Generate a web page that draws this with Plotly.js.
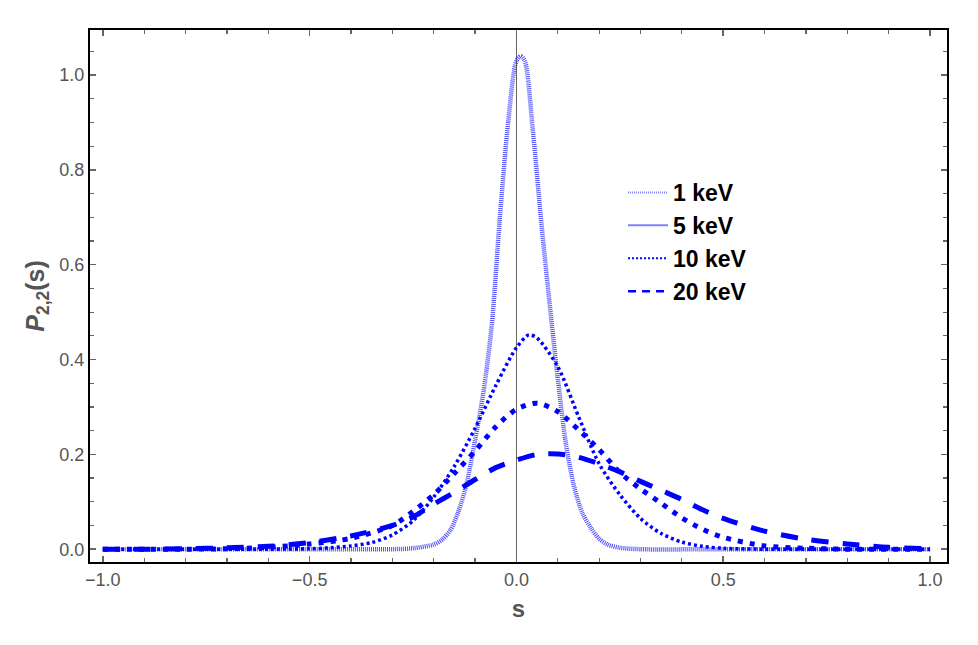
<!DOCTYPE html>
<html>
<head>
<meta charset="utf-8">
<script src="https://cdn.plot.ly/plotly-3.0.1.min.js"></script>
<style>
  html, body { margin: 0; padding: 0; background: #fff; }
  #chart { width: 978px; height: 645px; }
</style>
</head>
<body>
<div id="chart"></div>
<script>
// values
const s1 = [-1, -0.5, -0.3, -0.25, -0.2, -0.18, -0.16, -0.14, -0.12, -0.10, -0.08, -0.06, -0.04, -0.02, 0, 0.01, 0.02, 0.04, 0.06, 0.08, 0.10, 0.12, 0.14, 0.16, 0.18, 0.20, 0.22, 0.25, 0.3, 0.5, 1];
const p1 = [0, 0, 0, 0.002, 0.01, 0.02, 0.04, 0.08, 0.14, 0.23, 0.33, 0.47, 0.70, 0.90, 1.03, 1.04, 1.03, 0.88, 0.69, 0.52, 0.36, 0.22, 0.13, 0.075, 0.045, 0.022, 0.01, 0.003, 0, 0, 0];

const s5 = [-1, -0.6, -0.5, -0.45, -0.4, -0.35, -0.3, -0.25, -0.2, -0.15, -0.1, -0.05, 0, 0.03, 0.05, 0.1, 0.15, 0.2, 0.25, 0.3, 0.35, 0.4, 0.45, 0.5, 0.6, 1];
const p5 = [0, 0, 0.001, 0.003, 0.007, 0.014, 0.03, 0.06, 0.11, 0.175, 0.255, 0.345, 0.425, 0.452, 0.445, 0.385, 0.28, 0.18, 0.115, 0.065, 0.033, 0.015, 0.006, 0.002, 0, 0];

const s10 = [-1, -0.8, -0.7, -0.6, -0.5, -0.4, -0.3, -0.25, -0.2, -0.15, -0.1, -0.05, 0, 0.05, 0.1, 0.15, 0.2, 0.25, 0.3, 0.35, 0.4, 0.45, 0.5, 0.6, 0.7, 0.8, 1];
const p10 = [0, 0, 0.001, 0.004, 0.011, 0.023, 0.05, 0.08, 0.115, 0.16, 0.207, 0.258, 0.295, 0.308, 0.29, 0.252, 0.21, 0.162, 0.127, 0.097, 0.066, 0.042, 0.025, 0.007, 0.002, 0, 0];

const s20 = [-1, -0.9, -0.8, -0.7, -0.6, -0.5, -0.4, -0.35, -0.3, -0.25, -0.2, -0.15, -0.1, -0.05, 0, 0.05, 0.1, 0.15, 0.2, 0.25, 0.3, 0.35, 0.4, 0.45, 0.5, 0.6, 0.7, 0.8, 0.9, 1];
const p20 = [0, 0, 0.001, 0.003, 0.006, 0.014, 0.028, 0.038, 0.05, 0.068, 0.095, 0.12, 0.147, 0.172, 0.188, 0.2, 0.201, 0.194, 0.18, 0.163, 0.143, 0.124, 0.105, 0.083, 0.065, 0.038, 0.021, 0.011, 0.004, 0.001];

const names = ["1 keV", "5 keV", "10 keV", "20 keV"];

const font = "Arial, 'Liberation Sans', sans-serif";
const gray = "#555555";

const curves = [
  { x: s1, y: p1, line: { color: "rgba(30,30,255,0.8)", width: 4.5, dash: "1px,1px" } },
  { x: s5, y: p5, line: { color: "#0000ff", width: 3.5, dash: "3px,3px" } },
  { x: s10, y: p10, line: { color: "#0000ff", width: 5, dash: "5px,7px" } },
  { x: s20, y: p20, line: { color: "#0000ff", width: 5, dash: "17px,14px" } },
];

// legend keys drawn the way the reference legend shows them
const keys = [
  { color: "rgba(40,40,255,0.6)", width: 2, dash: "1px,1px" },
  { color: "rgba(40,40,255,0.6)", width: 2, dash: "solid" },
  { color: "#0000ff", width: 2, dash: "2px,2px" },
  { color: "#0000ff", width: 2.5, dash: "8px,6px" },
];

const traces = [];
curves.forEach((c, i) => {
  traces.push({
    x: c.x, y: c.y, type: "scatter", mode: "lines",
    line: Object.assign({ shape: "spline", smoothing: 0.8 }, c.line),
    name: names[i], legendgroup: names[i], showlegend: false,
    hoverinfo: "skip",
  });
});
keys.forEach((k, i) => {
  traces.push({
    x: [null], y: [null], type: "scatter", mode: "lines",
    line: k, name: names[i], legendgroup: names[i], showlegend: true,
  });
});

const axisCommon = {
  showgrid: false,
  showline: true,
  linecolor: "#000",
  linewidth: 2,
  mirror: "ticks",
  ticks: "inside",
  ticklen: 6,
  tickwidth: 1.5,
  tickcolor: "#666",
  tickformat: ".1f",
  tickfont: { family: font, size: 18, color: gray },
};

const layout = {
  width: 978,
  height: 645,
  margin: { l: 90, r: 31, t: 30, b: 83 },
  paper_bgcolor: "#fff",
  plot_bgcolor: "#fff",
  xaxis: Object.assign({}, axisCommon, {
    range: [-1.031, 1.041],
    dtick: 0.5,
    tick0: 0,
    minor: { dtick: 0.1, ticks: "inside", ticklen: 4, tickcolor: "#666", tickwidth: 1.2 },
    zeroline: true,
    zerolinecolor: "#666",
    zerolinewidth: 1,
    title: { text: "<b>s</b>", font: { family: font, size: 24, color: gray }, standoff: 12 },
  }),
  yaxis: Object.assign({}, axisCommon, {
    range: [-0.027, 1.095],
    dtick: 0.2,
    tick0: 0,
    minor: { dtick: 0.05, ticks: "inside", ticklen: 4, tickcolor: "#666", tickwidth: 1.2 },
    zeroline: false,
    title: { text: "<b><i>P</i><sub>2,2</sub>(s)</b>", font: { family: font, size: 25, color: gray }, standoff: 8 },
  }),
  legend: {
    x: 0.622, y: 0.735, xanchor: "left", yanchor: "top",
    itemwidth: 40,
    bgcolor: "rgba(0,0,0,0)",
    font: { family: font, size: 23, color: "#000", weight: "bold" },
    tracegroupgap: 0,
  },
  showlegend: true,
};

Plotly.newPlot("chart", traces, layout, { displayModeBar: false, staticPlot: true });
</script>
</body>
</html>
